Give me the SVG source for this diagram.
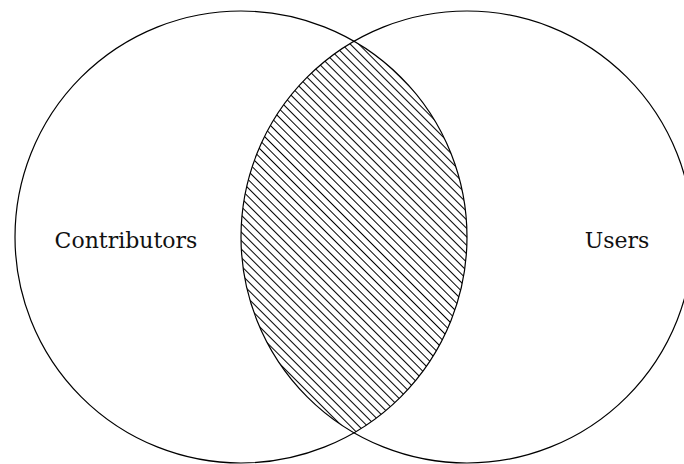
<svg xmlns="http://www.w3.org/2000/svg" width="684" height="464" viewBox="0 0 684 464">
<style>
.c{fill:none;stroke:#000;stroke-width:1.2}
.t{font-family:"DejaVu Serif","Liberation Serif",serif;font-size:22px;fill:#111}
</style>
<defs>
<pattern id="hatch" width="6" height="6" patternUnits="userSpaceOnUse" patternTransform="rotate(-45)">
<line x1="0" y1="-1" x2="0" y2="7" stroke="#000" stroke-width="1.3" shape-rendering="crispEdges"/>
</pattern>
<clipPath id="lens">
<circle cx="241" cy="237" r="226"/>
</clipPath>
</defs>
<rect width="684" height="464" fill="#fff"/>
<g id="intersection">
<circle cx="467" cy="237" r="226" fill="url(#hatch)" clip-path="url(#lens)"/>
</g>
<g id="contributors">
<circle class="c" cx="241" cy="237" r="226"/>
<text class="t" x="126" y="248" text-anchor="middle">Contributors</text>
</g>
<g id="users">
<circle class="c" cx="467" cy="237" r="226"/>
<text class="t" x="617" y="248" text-anchor="middle">Users</text>
</g>
</svg>
